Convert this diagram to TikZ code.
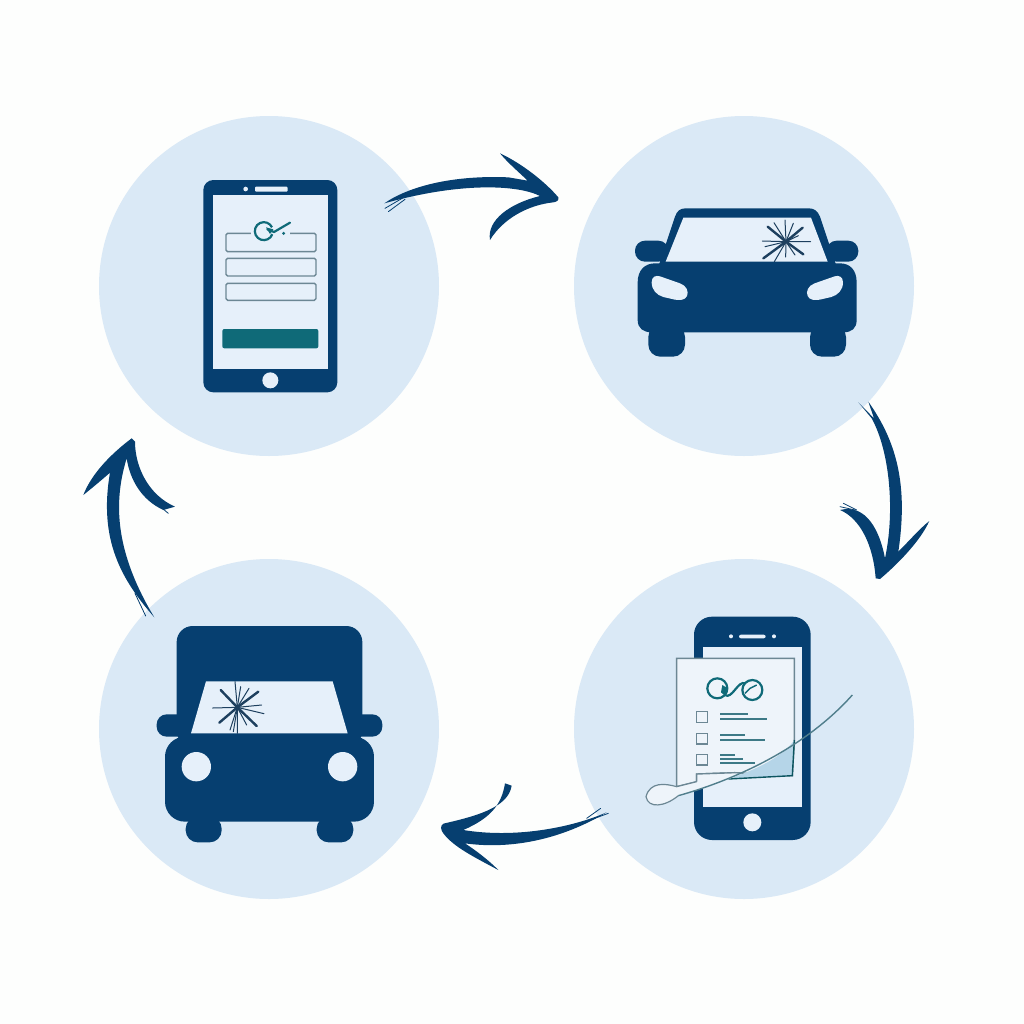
\documentclass[tikz,border=0pt]{standalone}
\definecolor{navy}{HTML}{063F70}
\definecolor{disc}{HTML}{DAE9F6}
\definecolor{screen}{HTML}{E6F0FA}
\definecolor{paper}{HTML}{EEF4FA}
\definecolor{teal}{HTML}{0F6A78}
\definecolor{rule}{HTML}{6C8794}
\definecolor{crack}{HTML}{1D3F5E}
\definecolor{foldc}{HTML}{B5D5E8}
\definecolor{bg}{HTML}{FDFEFD}
\tikzset{
  disc/.style={circle,fill=disc,draw=none,minimum size=170pt,inner sep=0pt},
  zoomed/.style={shift={#1},scale=1/3},
  solid navy/.style={fill=navy,draw=none},
  brush/.style={fill=navy,draw=none},
  strand/.style={draw=navy,line width=.4pt,line cap=round},
  lightpart/.style={fill=screen,draw=none},
  field/.style={draw=rule,line width=.7pt,rounded corners=.8pt},
  thick crack/.style={draw=crack,line width=1.2pt,line cap=round},
  thin crack/.style={draw=crack,line width=.5pt,line cap=round},
  iconline/.style={draw=teal,line width=1.1pt},
  textline/.style={draw=rule!50!teal,line width=.9pt},
  box/.style={draw=rule,line width=.8pt,fill=paper}
}
\begin{document}
\begin{tikzpicture}[x=.5pt,y=-.5pt]
\useasboundingbox (0,0) rectangle (1024,1024);
\fill[bg] (0,0) rectangle (1024,1024);
\node[disc] (d1) at (269,286) {};
\node[disc] (d2) at (744,286) {};
\node[disc] (d3) at (744,729) {};
\node[disc] (d4) at (269,729) {};

% --- phone with form
\begin{scope}[zoomed={(190,170)}]
\fill[solid navy,rounded corners=5pt] (40,30) rectangle (442,667);
\fill[lightpart] (68,75) rectangle (413,597);
\fill[screen,rounded corners=.5pt] (195,50) rectangle (293,65);
\fill[screen] (167,57) circle (7);
\fill[screen] (241,631) circle (24);
\draw[field] (108,190) rectangle (378,245);
\draw[field] (108,265) rectangle (378,318);
\draw[field] (108,340) rectangle (378,391);
\fill[screen] (184,183) rectangle (300,197);
\draw[iconline] (246,172) arc (-25:-340:27);
\draw[iconline,line cap=round] (232,178) -- (252,186) -- (300,158);
\fill[teal] (228,172) -- (250,178) -- (240,192) -- cycle;
\fill[teal] (281,190) circle (5);
\fill[teal,rounded corners=1pt] (97,477) rectangle (385,535);
\end{scope}

% --- car with cracked windscreen
\begin{scope}[zoomed={(625,195)}]
\fill[solid navy] (100,215) -- (150,65) .. controls (156,48) and (165,40) .. (182,40) -- (552,40) .. controls (568,40) and (578,48) .. (585,65) -- (635,215) -- cycle;
\fill[solid navy,rounded corners=5pt] (30,137) rectangle (130,200);
\fill[solid navy,rounded corners=5pt] (605,137) rectangle (700,200);
\fill[solid navy] (38,262) .. controls (38,225) and (60,205) .. (90,205) -- (645,205) .. controls (675,205) and (695,225) .. (695,262) -- (695,375) .. controls (695,400) and (680,412) .. (655,412) -- (80,412) .. controls (55,412) and (38,400) .. (38,375) -- cycle;
\fill[solid navy,rounded corners=6pt] (70,390) rectangle (180,485);
\fill[solid navy,rounded corners=6pt] (555,390) rectangle (663,485);
\fill[lightpart] (175,68) -- (558,68) -- (608,200) -- (122,200) -- cycle;
\fill[screen] (80,262) .. controls (80,245) and (92,240) .. (105,244) -- (165,265) .. controls (185,272) and (192,290) .. (186,303) .. controls (180,316) and (165,316) .. (150,314) -- (115,306) .. controls (95,300) and (80,285) .. (80,262) -- cycle;
\fill[screen] (654,262) .. controls (654,245) and (642,240) .. (629,244) -- (569,265) .. controls (549,272) and (542,290) .. (548,303) .. controls (554,316) and (569,316) .. (584,314) -- (619,306) .. controls (639,300) and (654,285) .. (654,262) -- cycle;
\coordinate (c1) at (483,140);
\foreach \p in {(428,95),(535,178),(533,98),(415,190)} \draw[thick crack] (c1) -- \p;
\foreach \p in {(412,138),(557,140),(480,75),(448,200),(447,83),(505,85),(482,186),(420,155),(520,122),(510,180)} \draw[thin crack] (c1) -- \p;
\end{scope}

% --- phone with signed checklist
\begin{scope}[zoomed={(635,605)}]
\fill[solid navy,rounded corners=9pt] (177,35) rectangle (527,705);
\fill[lightpart] (203,125) rectangle (502,605);
\fill[screen,rounded corners=1pt] (312,89) rectangle (392,100);
\fill[screen] (288,94) circle (6);
\fill[screen] (417,94) circle (6);
\fill[screen] (352,652) circle (27);
\draw[draw=rule,line width=.7pt,fill=paper] (125,545) -- (125,160) -- (478,160) -- (478,410) -- (472,512) -- (300,503) -- (185,507) -- (185,530) -- cycle;
\fill[foldc] (280,522) .. controls (390,485) and (450,445) .. (478,405) -- (472,512) -- cycle;
\draw[draw=teal!80!black,line width=.7pt] (280,522) -- (472,512) -- (478,405);
\draw[iconline] (247,250) circle (30);
\draw[iconline] (352,255) circle (30);
\draw[iconline] (270,270) .. controls (290,285) and (310,225) .. (330,235);
\fill[teal] (262,240) -- (278,250) -- (270,272) -- (258,262) -- cycle;
\draw[teal,line width=.7pt] (330,265) -- (345,250) -- (365,240);
\draw[box] (185,320) rectangle (218,353);
\draw[box] (185,385) rectangle (218,417);
\draw[box] (185,448) rectangle (218,480);
\draw[textline] (255,326) -- (340,326);
\draw[textline] (255,342) -- (395,342);
\draw[textline] (255,390) -- (330,390);
\draw[textline] (255,405) -- (390,405);
\draw[textline] (255,450) -- (300,450);
\draw[textline] (255,462) -- (325,462);
\draw[textline] (255,474) -- (360,474);
% pen: bulb and strip of paper above its stem
\fill[paper] (125,545) .. controls (90,535) and (45,530) .. (33,575) .. controls (40,612) and (90,605) .. (130,572) .. controls (200,550) and (250,535) .. (300,515) -- (300,503) -- (185,507) -- (185,530) -- cycle;
\draw[draw=rule,line width=.6pt] (185,530) -- (125,545) .. controls (90,535) and (45,530) .. (33,575) .. controls (40,612) and (90,605) .. (130,572);
\draw[draw=rule,line width=.7pt] (185,530) -- (185,507) -- (300,503);
\draw[draw=rule!70!teal,line width=.7pt] (130,572) .. controls (280,530) and (500,440) .. (652,270);
\end{scope}

% --- truck-like vehicle with cracked windscreen
\begin{scope}[zoomed={(150,620)}]
\fill[solid navy,rounded corners=8pt] (80,18) rectangle (637,380);
\fill[solid navy,rounded corners=5pt] (20,283) rectangle (697,350);
\fill[solid navy,rounded corners=10pt] (45,350) rectangle (672,605);
\fill[solid navy,rounded corners=6pt] (107,590) rectangle (215,667);
\fill[solid navy,rounded corners=6pt] (500,590) rectangle (610,667);
\fill[lightpart] (168,184) -- (548,184) -- (593,340) -- (123,340) -- cycle;
\fill[screen] (139,440) circle (44);
\fill[screen] (578,440) circle (44);
\coordinate (c2) at (262,262);
\foreach \p in {(212,210),(325,215),(208,308),(320,318)} \draw[thick crack] (c2) -- \p;
\foreach \p in {(188,264),(342,281),(255,185),(262,340),(297,205),(335,255),(290,315),(240,330),(272,200),(250,335)} \draw[thin crack] (c2) -- \p;
\end{scope}

% --- brush arrows
\begin{scope}[zoomed={(375,140)}]
\fill[brush] (28,190) .. controls (100,140) and (230,105) .. (400,112) -- (458,122) .. controls (430,95) and (400,70) .. (375,40) .. controls (440,70) and (510,125) .. (550,172) .. controls (553,180) and (545,186) .. (535,187) .. controls (460,195) and (385,235) .. (345,300) .. controls (335,240) and (405,190) .. (495,168) .. controls (430,135) and (260,125) .. cycle;
\draw[strand] (90,170) -- (30,205);
\draw[strand] (90,178) -- (40,215);
\end{scope}
\begin{scope}[zoomed={(830,395)}]
\fill[brush] (115,20) .. controls (200,140) and (235,270) .. (205,470) .. controls (235,440) and (270,400) .. (298,378) .. controls (270,440) and (200,510) .. (150,552) -- (137,550) .. controls (130,450) and (90,370) .. (30,345) .. controls (110,325) and (150,410) .. (165,490) .. controls (195,350) and (180,170) .. (125,70) -- (85,22) -- (132,70) -- cycle;
\draw[strand] (30,335) -- (75,345);
\draw[strand] (40,325) -- (80,345);
\end{scope}
\begin{scope}[zoomed={(430,775)}]
\fill[brush] (530,112) .. controls (420,160) and (250,190) .. (100,165) .. controls (180,130) and (215,90) .. (225,25) -- (245,32) .. controls (235,100) and (130,125) .. (40,146) .. controls (30,152) and (32,165) .. (40,175) .. controls (70,215) and (130,245) .. (205,285) .. controls (170,250) and (135,225) .. (105,205) .. controls (250,225) and (400,190) .. cycle;
\draw[strand] (470,130) -- (512,100);
\draw[strand] (480,135) -- (535,115);
\end{scope}
\begin{scope}[zoomed={(75,430)}]
\fill[brush] (238,562) .. controls (140,450) and (70,330) .. (105,128) .. controls (80,150) and (50,175) .. (25,195) .. controls (50,130) and (110,70) .. (170,25) -- (180,35) .. controls (180,110) and (220,195) .. (300,230) -- (265,240) .. controls (200,210) and (165,150) .. (155,85) .. controls (120,200) and (110,350) .. cycle;
\draw[strand] (250,225) -- (280,250);
\draw[strand] (180,490) -- (212,558);
\end{scope}
\end{tikzpicture}
\end{document}
